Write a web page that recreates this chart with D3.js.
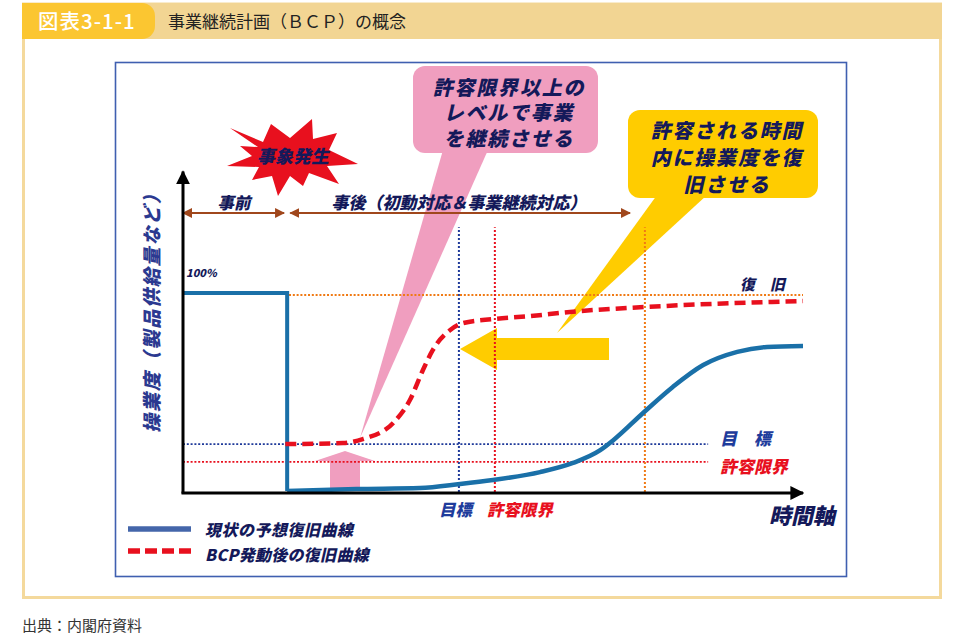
<!DOCTYPE html>
<html><head><meta charset="utf-8">
<script src="https://cdn.jsdelivr.net/npm/d3@7/dist/d3.min.js"></script>
<style>
html,body{margin:0;padding:0;background:#fff;}
svg{display:block;font-family:"Noto Sans CJK JP","Noto Sans",sans-serif;}
</style></head>
<body><svg id="c" width="963" height="640"></svg>
<script>
// ---- data ----
const figureNo = "図表3-1-1";
const title = "事業継続計画（ＢＣＰ）の概念";
const source = "出典：内閣府資料";
const yAxisTitle = "操業度（製品供給量など）";
const xAxisTitle = "時間軸";
const maxLabel = "100%";
// current expected recovery curve (time %, operating level %)
const currentT = [0, 16.8, 16.8, 28, 38.2, 44.7, 50, 57.6, 62.9, 67.3, 69.4, 74.2, 79, 83.9, 89.4, 94.2, 100];
const currentV = [100, 100, 0.5, 1.5, 2, 4, 6, 10, 14.6, 21, 26, 39.7, 52.8, 63.8, 70.4, 72.9, 73.4];
// recovery curve after BCP activation
const bcpT = [16.5, 25.8, 29, 33.9, 36.6, 38.7, 40.3, 43.1, 45.2, 50, 56, 62.4, 74.8, 100];
const bcpV = [24.1, 24.6, 26.6, 34.7, 46.2, 61.3, 71.4, 81.4, 84.9, 86.9, 88.4, 90.5, 93, 96];
// reference levels
const levelNames = ["復　旧", "目　標", "許容限界"];
const levelValues = [99, 24.1, 15.1];
// reference times
const timeNames = ["目標", "許容限界", "復旧"];
const timeValues = [44.5, 50.3, 74.5];
const eventTime = 16.8;
const phaseNames = ["事前", "事後（初動対応＆事業継続対応）"];
const phaseStart = [0, 17.3];
const phaseEnd = [16.3, 72.1];
const legendNames = ["現状の予想復旧曲線", "BCP発動後の復旧曲線"];
const calloutPink = ["許容限界以上の", "レベルで事業", "を継続させる"];
const calloutYellow = ["許容される時間", "内に操業度を復", "旧させる"];
const eventLabel = "事象発生";

// ---- drawing ----
const svg = d3.select("#c");
const x = d3.scaleLinear().domain([0, 100]).range([183, 803]);
const y = d3.scaleLinear().domain([0, 100]).range([492, 293]);

const navy = "#14195a", blueTxt = "#1e3c9c", redC = "#e8101e", orangeC = "#f07a14";
const dotBlue = "#1f3a9a", curveBlue = "#1a70a8";
const SK = -13;

const defs = svg.append("defs");
function marker(id, color, size) {
  defs.append("marker").attr("id", id).attr("viewBox", "0 0 10 10")
    .attr("refX", 9).attr("refY", 5).attr("markerWidth", size).attr("markerHeight", size)
    .attr("markerUnits", "userSpaceOnUse").attr("orient", "auto-start-reverse")
    .append("path").attr("d", "M0,0L10,5L0,10z").attr("fill", color);
}
marker("ak", "#000", 14);
marker("ab", "#a0471c", 10);

// outer frame
svg.append("rect").attr("x", 23.5).attr("y", 4).attr("width", 917).attr("height", 593.5)
  .attr("fill", "#fff").attr("stroke", "#f4d99c").attr("stroke-width", 3);
svg.append("rect").attr("x", 22).attr("y", 3).attr("width", 920).attr("height", 36).attr("fill", "#f2d593");
svg.append("path").attr("d", "M22,3H142a13,13 0 0 1 13,13V26a13,13 0 0 1 -13,13H22Z").attr("fill", "#fbc631");
svg.append("text").attr("x", 38).attr("y", 28.5).attr("fill", "#fff").attr("font-size", 20.5).attr("font-weight", 500)
  .attr("letter-spacing", 1).text(figureNo);
svg.append("text").attr("x", 168).attr("y", 28).attr("fill", "#222").attr("font-size", 17).text(title);
svg.append("text").attr("x", 22).attr("y", 631).attr("fill", "#333").attr("font-size", 15).text(source);

// inner box
svg.append("rect").attr("x", 115.5).attr("y", 62.5).attr("width", 731).attr("height", 514)
  .attr("fill", "#fff").attr("stroke", "#3f5fb0").attr("stroke-width", 1.6);

// skewed bold text helper
const lbl = (tx, ty, t, fs, col, anchor, ls) => svg.append("text")
  .attr("transform", `translate(${tx},${ty}) skewX(${SK})`)
  .attr("font-size", fs).attr("font-weight", 900).attr("fill", col)
  .attr("letter-spacing", ls || 0).attr("text-anchor", anchor || "start").text(t);

// callout tails & boxes
svg.append("polygon").attr("points", "443,150 488,150 360,438").attr("fill", "#f09ebf");
svg.append("rect").attr("x", 413).attr("y", 66).attr("width", 185).attr("height", 87).attr("rx", 12).attr("fill", "#f09ebf");
svg.append("polygon").attr("points", "657,195 707,195 557,333").attr("fill", "#ffcc00");
svg.append("rect").attr("x", 628).attr("y", 110).attr("width", 190).attr("height", 88).attr("rx", 12).attr("fill", "#ffcc00");

calloutPink.forEach((t, i) => lbl(509, 94.5 + i * 25.5, t, 20, navy, "middle", 1.8));
calloutYellow.forEach((t, i) => lbl(727, 138 + i * 27, t, 20, navy, "middle", 1.8));

// yellow big arrow (pointing left)
svg.append("polygon").attr("points", "460,349 497,328 497,338 609,338 609,360 497,360 497,370")
  .attr("fill", "#ffcc00");
// pink up arrow
svg.append("polygon").attr("points", "345,451 375,461 360,461 360,489 330,489 330,461 315,461")
  .attr("fill", "#f09ebf");

// starburst
const starPts = [[230,128],[263,142],[271,124],[290,138],[312,119],[313,139],[337,133],[329,150],[358,164],
  [327,166],[339,184],[309,173],[303,186],[290,176],[278,196],[272,176],[252,180],[259,167],[227,166],[252,156],[240,146],[258,147]];
svg.append("polygon").attr("points", starPts.map(p => p.join(",")).join(" ")).attr("fill", "#e8101e");
lbl(293, 163, eventLabel, 18, navy, "middle");

// phase arrows
const phaseY = 213;
phaseNames.forEach((n, i) => {
  svg.append("line").attr("x1", x(phaseStart[i])).attr("x2", x(phaseEnd[i])).attr("y1", phaseY).attr("y2", phaseY)
    .attr("stroke", "#a0471c").attr("stroke-width", 2.2)
    .attr("marker-start", "url(#ab)").attr("marker-end", "url(#ab)");
});
lbl(234, 209, phaseNames[0], 16.5, navy, "middle");
lbl(459, 209, phaseNames[1], 17, navy, "middle");

// reference horizontal lines
const hStart = [eventTime + 0.3, 0, 0];
const hEnd = [100, 84.7, 84.7];
const hColor = [orangeC, dotBlue, redC];
levelValues.forEach((v, i) => {
  svg.append("line").attr("x1", x(hStart[i])).attr("x2", x(hEnd[i])).attr("y1", y(v)).attr("y2", y(v))
    .attr("stroke", hColor[i]).attr("stroke-width", 1.8).attr("stroke-dasharray", "2,1.8");
});
// reference vertical lines
const vColor = [dotBlue, redC, orangeC];
timeValues.forEach((t, i) => {
  svg.append("line").attr("x1", x(t)).attr("x2", x(t)).attr("y1", y(0)).attr("y2", y(133))
    .attr("stroke", vColor[i]).attr("stroke-width", 2).attr("stroke-dasharray", "2,2");
});

// curves
const cur = currentT.map((t, i) => [t, currentV[i]]);
svg.append("path").datum(cur.slice(0, 3))
  .attr("d", d3.line().x(d => x(d[0])).y(d => y(d[1])))
  .attr("fill", "none").attr("stroke", curveBlue).attr("stroke-width", 4);
svg.append("path").datum(cur.slice(2))
  .attr("d", d3.line().x(d => x(d[0])).y(d => y(d[1])).curve(d3.curveMonotoneX))
  .attr("fill", "none").attr("stroke", curveBlue).attr("stroke-width", 4.5);
svg.append("path").datum(bcpT.map((t, i) => [t, bcpV[i]]))
  .attr("d", d3.line().x(d => x(d[0])).y(d => y(d[1])).curve(d3.curveMonotoneX))
  .attr("fill", "none").attr("stroke", redC).attr("stroke-width", 4.5).attr("stroke-dasharray", "11,6");

// axes
svg.append("line").attr("x1", x(0)).attr("x2", x(0)).attr("y1", y(0) + 1.5).attr("y2", y(161))
  .attr("stroke", "#000").attr("stroke-width", 3).attr("marker-end", "url(#ak)");
svg.append("line").attr("x1", x(0) - 1.5).attr("x2", x(100)).attr("y1", y(0) + 1).attr("y2", y(0) + 1)
  .attr("stroke", "#000").attr("stroke-width", 3).attr("marker-end", "url(#ak)");

// labels
lbl(186, 277, maxLabel, 11, navy);
lbl(740, 290, levelNames[0], 15, navy);
lbl(720, 445, levelNames[1], 17, blueTxt);
lbl(720, 473, levelNames[2], 17, redC);
lbl(439, 516, timeNames[0], 16.5, blueTxt);
lbl(487, 516, timeNames[1], 16.5, redC);
lbl(769, 524, xAxisTitle, 22, navy);
svg.append("text").attr("transform", `translate(159,308) rotate(-90) skewX(${SK})`).attr("text-anchor", "middle")
  .attr("font-size", 19).attr("font-weight", 900).attr("fill", "#2b3990")
  .attr("letter-spacing", 1.8).text(yAxisTitle);

// legend
svg.append("line").attr("x1", 128).attr("x2", 191).attr("y1", 529).attr("y2", 529)
  .attr("stroke", "#4466aa").attr("stroke-width", 5.5);
svg.append("line").attr("x1", 128).attr("x2", 191).attr("y1", 551).attr("y2", 551)
  .attr("stroke", redC).attr("stroke-width", 5.5).attr("stroke-dasharray", "12,5");
lbl(205, 536, legendNames[0], 16, navy, "start", 0.5);
lbl(205, 561, legendNames[1], 16, navy, "start", 0.3);
</script></body></html>
